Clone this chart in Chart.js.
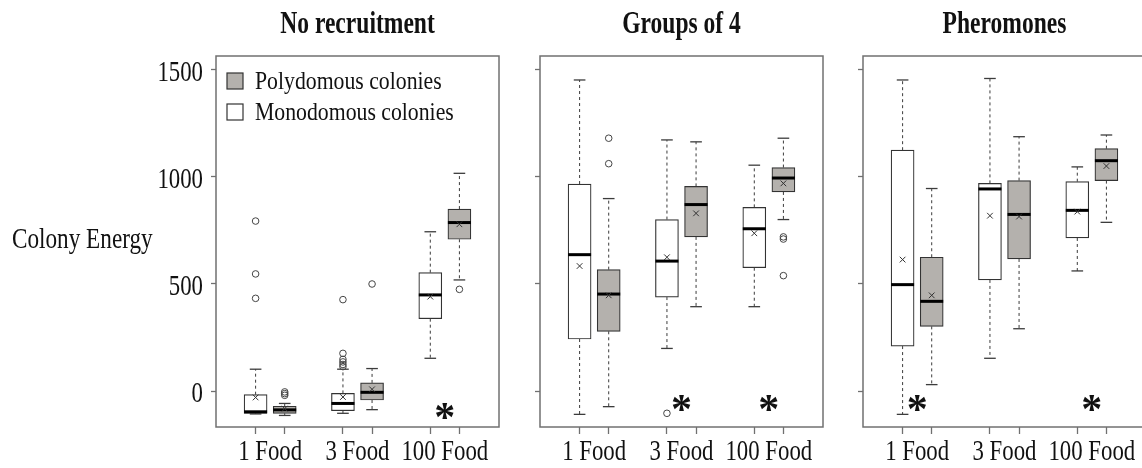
<!DOCTYPE html>
<html>
<head>
<meta charset="utf-8">
<script src="https://cdn.jsdelivr.net/npm/chart.js@4/dist/chart.umd.min.js"></script>
<style>
  html, body { margin: 0; padding: 0; background: #fff; width: 1142px; height: 468px; overflow: hidden; position: relative; }
  canvas { position: absolute; top: 0; }
</style>
</head>
<body>
<canvas id="p1" width="520" height="468" style="left:0px"></canvas>
<canvas id="p2" width="320" height="468" style="left:520px"></canvas>
<canvas id="p3" width="320" height="468" style="left:840px"></canvas>
<script>
// ---- data -------------------------------------------------------------
const categories = ['1 Food', '3 Food', '100 Food'];
const seriesNames = ['Polydomous colonies', 'Monodomous colonies'];
const panelTitles = ['No recruitment', 'Groups of 4', 'Pheromones'];
const yTicks = [0, 500, 1000, 1500];
const yLabel = 'Colony Energy';

// box summaries per food level: [lower whisker, Q1, median, Q3, upper whisker]
const noRecMono = [[-107, -104, -97, -17, 102], [-104, -92, -58, -11, 102], [153, 338, 449, 553, 744]];
const noRecPoly = [[-114, -104, -88, -71, -58], [-87, -42, -6, 38, 105], [519, 709, 787, 850, 1017]];
const noRecMonoMean = [-30, -28, 441];
const noRecPolyMean = [-82, 8, 779];
const noRecMonoOut = [[794, 547, 433], [427, 176, 148, 136, 124, 114], []];
const noRecPolyOut = [[-4, -12, -20], [500], [475]];
const noRecSignif = [false, false, true];

const groupsMono = [[-109, 243, 637, 967, 1453], [199, 439, 607, 801, 1173], [394, 576, 758, 858, 1055]];
const groupsPoly = [[-73, 279, 453, 567, 899], [394, 720, 871, 956, 1164], [801, 930, 995, 1044, 1181]];
const groupsMonoMean = [584, 625, 737];
const groupsPolyMean = [447, 830, 970];
const groupsMonoOut = [[], [-104], []];
const groupsPolyOut = [[1181, 1062], [], [720, 710, 539]];
const groupsSignif = [false, true, true];

const pherMono = [[-109, 210, 497, 1125, 1453], [153, 519, 944, 970, 1460], [561, 715, 844, 978, 1047]];
const pherPoly = [[30, 302, 419, 625, 946], [291, 617, 825, 983, 1188], [788, 983, 1076, 1132, 1196]];
const pherMonoMean = [614, 819, 838];
const pherPolyMean = [447, 815, 1051];
const pherMonoOut = [[], [], []];
const pherPolyOut = [[], [], []];
const pherSignif = [true, false, true];

// ---- styling ----------------------------------------------------------
const FONT = "'Liberation Serif', 'Times New Roman', serif";
const INK = '#111111';
const FRAME = '#707070';
const BOX_EDGE = '#333333';
const POLY_FILL = '#b4b1ad';
const MONO_FILL = '#ffffff';
const X_MIN = -0.36, X_MAX = 9.36;
const Y_MIN = -168, Y_MAX = 1565;

// Condensed serif lettering: every string drawn on a panel canvas is
// compressed horizontally about its anchor point.
function condenseText(ctx, factor) {
  const fill = ctx.fillText.bind(ctx);
  ctx.squeeze = factor;
  ctx.fillText = function (text, x, y) {
    this.save();
    this.translate(x, y);
    this.scale(this.squeeze, 1);
    fill(text, 0, 0);
    this.restore();
  };
}

function line(ctx, x1, y1, x2, y2) {
  ctx.beginPath();
  ctx.moveTo(x1, y1);
  ctx.lineTo(x2, y2);
  ctx.stroke();
}

// whiskers, caps and medians for each box dataset
const whiskerPlugin = {
  id: 'whiskers',
  afterDatasetDraw(chart, args) {
    const ds = chart.data.datasets[args.index];
    if (!ds.stats) return;
    const { ctx, scales: { x, y } } = chart;
    const capHalf = x.getPixelForValue(0.2) - x.getPixelForValue(0);
    ctx.save();
    ds.data.forEach((d, i) => {
      const [lo, q1, med, q3, hi] = ds.stats[i];
      const px = x.getPixelForValue(d.x);
      ctx.strokeStyle = '#3c3c3c';
      ctx.lineWidth = 1;
      ctx.setLineDash([3, 3]);
      line(ctx, px, y.getPixelForValue(q3), px, y.getPixelForValue(hi));
      line(ctx, px, y.getPixelForValue(q1), px, y.getPixelForValue(lo));
      ctx.setLineDash([]);
      ctx.lineWidth = 1.3;
      line(ctx, px - capHalf, y.getPixelForValue(hi), px + capHalf, y.getPixelForValue(hi));
      line(ctx, px - capHalf, y.getPixelForValue(lo), px + capHalf, y.getPixelForValue(lo));
      const bar = args.meta.data[i];
      const half = bar.width / 2;
      ctx.strokeStyle = '#000';
      ctx.lineWidth = 3;
      line(ctx, px - half, y.getPixelForValue(med), px + half, y.getPixelForValue(med));
    });
    ctx.restore();
  }
};

// frame, significance marks, legend and the value label
const decorPlugin = {
  id: 'decor',
  beforeDatasetsDraw(chart) {
    const { ctx, chartArea: a } = chart;
    ctx.save();
    ctx.strokeStyle = FRAME;
    ctx.lineWidth = 1.5;
    ctx.strokeRect(a.left, a.top, a.right - a.left, a.bottom - a.top);
    ctx.restore();
  },
  afterDatasetsDraw(chart, args, opts) {
    const { ctx, chartArea: a, scales: { x, y } } = chart;
    ctx.save();
    // asterisks under significant food levels
    ctx.squeeze = 1;
    ctx.font = 'bold 42px ' + FONT;
    ctx.fillStyle = INK;
    ctx.textAlign = 'left';
    ctx.textBaseline = 'alphabetic';
    const m = ctx.measureText('*');
    opts.signif.forEach((s, i) => {
      if (!s) return;
      const cx = x.getPixelForValue(3 * i + 1.5);
      const cy = y.getPixelForValue(opts.markLevel);
      const dx = cx - (m.actualBoundingBoxRight - m.actualBoundingBoxLeft) / 2;
      const dy = cy + (m.actualBoundingBoxAscent - m.actualBoundingBoxDescent) / 2;
      ctx.fillText('*', dx, dy);
    });
    if (opts.legend) {
      const boxes = chart.data.datasets.filter(d => d.stats);
      ctx.squeeze = 0.87;
      ctx.font = '25px ' + FONT;
      ctx.textBaseline = 'middle';
      boxes.forEach((d, k) => {
        const top = a.top + 17 + k * 31;
        ctx.fillStyle = d.backgroundColor;
        ctx.fillRect(a.left + 11, top, 16, 16);
        ctx.strokeStyle = BOX_EDGE;
        ctx.lineWidth = 1.2;
        ctx.strokeRect(a.left + 11, top, 16, 16);
        ctx.fillStyle = INK;
        ctx.fillText(d.label, a.left + 39, top + 9);
      });
    }
    if (opts.valueLabel) {
      ctx.squeeze = 0.8;
      ctx.font = '29px ' + FONT;
      ctx.fillStyle = INK;
      ctx.textBaseline = 'alphabetic';
      ctx.fillText(opts.valueLabel, 12, 248);
    }
    ctx.restore();
  }
};

function buildPanel(id, cfg) {
  const canvas = document.getElementById(id);
  const ctx = canvas.getContext('2d');
  condenseText(ctx, 0.76);

  const boxSet = (label, stats, offset, fill) => ({
    type: 'bar',
    label,
    stats,
    data: stats.map((s, i) => ({ x: 3 * i + offset, y: [s[1], s[3]] })),
    backgroundColor: fill,
    borderColor: BOX_EDGE,
    borderWidth: 1.2,
    borderSkipped: false,
    barThickness: 23,
    grouped: false,
    order: 3
  });
  const place = (vals, offset) => vals.map((v, i) => ({ x: 3 * i + offset, y: v }));
  const placeMany = (lists, offset) => lists.flatMap((vs, i) => vs.map(v => ({ x: 3 * i + offset, y: v })));

  const xTickValues = categories.flatMap((c, i) => [3 * i + 1, 3 * i + 1.5, 3 * i + 2]);

  return new Chart(ctx, {
    type: 'bar',
    data: {
      datasets: [
        boxSet(seriesNames[0], cfg.poly, 2, POLY_FILL),
        boxSet(seriesNames[1], cfg.mono, 1, MONO_FILL),
        {
          type: 'scatter', label: 'mean',
          data: [...place(cfg.monoMean, 1), ...place(cfg.polyMean, 2)],
          pointStyle: 'crossRot', pointRadius: 4, borderColor: '#333', borderWidth: 1,
          order: 1
        },
        {
          type: 'scatter', label: 'outliers',
          data: [...placeMany(cfg.monoOut, 1), ...placeMany(cfg.polyOut, 2)],
          pointStyle: 'circle', pointRadius: 3.3, borderColor: '#444', borderWidth: 1,
          backgroundColor: 'rgba(0,0,0,0)', order: 1
        }
      ]
    },
    options: {
      responsive: false,
      animation: false,
      devicePixelRatio: 1,
      events: [],
      layout: { padding: { left: 0, right: cfg.padRight, top: 0, bottom: 0 } },
      plugins: {
        legend: { display: false },
        tooltip: { enabled: false },
        title: {
          display: true,
          text: cfg.title,
          fullSize: false,
          color: INK,
          font: { family: FONT, size: 31, weight: 'bold', lineHeight: 1 },
          padding: { top: 9, bottom: 16 }
        },
        decor: {
          signif: cfg.signif,
          markLevel: cfg.markLevel,
          legend: cfg.legend,
          valueLabel: cfg.valueLabel
        }
      },
      scales: {
        x: {
          type: 'linear',
          min: X_MIN, max: X_MAX,
          offset: false,
          afterBuildTicks: s => { s.ticks = xTickValues.map(v => ({ value: v })); },
          afterFit: s => { s.height = 41; },
          border: { display: false },
          grid: {
            offset: false,
            drawOnChartArea: false,
            tickLength: 7,
            tickWidth: 1.3,
            tickColor: c => (c.tick && Number.isInteger(c.tick.value)) ? FRAME : 'rgba(0,0,0,0)'
          },
          ticks: {
            autoSkip: false,
            maxRotation: 0,
            padding: 3,
            color: INK,
            font: { family: FONT, size: 30, lineHeight: 1 },
            callback: v => Number.isInteger(v) ? '' : categories[Math.floor(v / 3)]
          }
        },
        y: {
          type: 'linear',
          min: Y_MIN, max: Y_MAX,
          afterBuildTicks: s => { s.ticks = yTicks.map(v => ({ value: v })); },
          afterFit: s => { s.width = cfg.axisWidth; },
          border: { display: false },
          grid: { drawOnChartArea: false, tickLength: 5, tickWidth: 1.3, tickColor: FRAME },
          ticks: {
            display: cfg.showYLabels,
            padding: 8,
            labelOffset: 3,
            color: INK,
            font: { family: FONT, size: 30, lineHeight: 1 },
            callback: v => String(v)
          }
        }
      }
    },
    plugins: [whiskerPlugin, decorPlugin]
  });
}

buildPanel('p1', {
  title: panelTitles[0], mono: noRecMono, poly: noRecPoly,
  monoMean: noRecMonoMean, polyMean: noRecPolyMean,
  monoOut: noRecMonoOut, polyOut: noRecPolyOut, signif: noRecSignif,
  markLevel: -92, legend: true, valueLabel: yLabel,
  showYLabels: true, axisWidth: 216, padRight: 21
});
buildPanel('p2', {
  title: panelTitles[1], mono: groupsMono, poly: groupsPoly,
  monoMean: groupsMonoMean, polyMean: groupsPolyMean,
  monoOut: groupsMonoOut, polyOut: groupsPolyOut, signif: groupsSignif,
  markLevel: -58, legend: false, valueLabel: null,
  showYLabels: false, axisWidth: 20, padRight: 17
});
buildPanel('p3', {
  title: panelTitles[2], mono: pherMono, poly: pherPoly,
  monoMean: pherMonoMean, polyMean: pherPolyMean,
  monoOut: pherMonoOut, polyOut: pherPolyOut, signif: pherSignif,
  markLevel: -58, legend: false, valueLabel: null,
  showYLabels: false, axisWidth: 23, padRight: 14
});
</script>
</body>
</html>
